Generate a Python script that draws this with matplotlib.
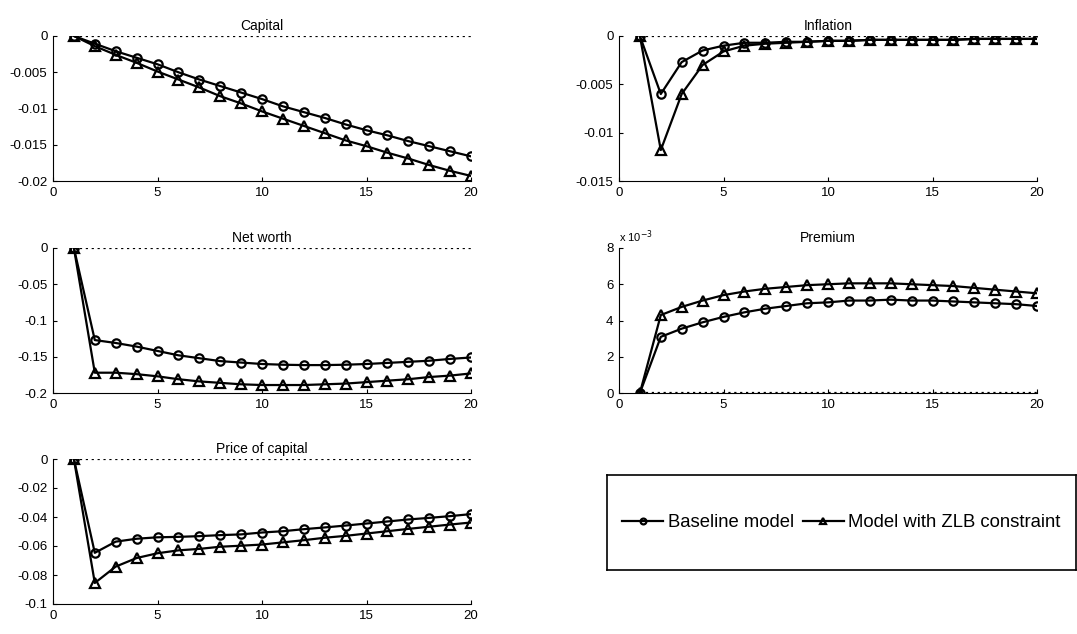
import numpy as np
import matplotlib.pyplot as plt
from matplotlib.ticker import FuncFormatter

plt.rcParams['font.family'] = ['Liberation Sans', 'DejaVu Sans']

periods = np.arange(1, 21)

# impulse responses: baseline vs ZLB-constrained model
capital_base = [0, -0.00106, -0.0021, -0.0030, -0.0039, -0.0050, -0.0060, -0.0069, -0.0078, -0.0087,
                -0.0097, -0.0105, -0.0113, -0.0122, -0.0130, -0.0137, -0.0145, -0.0152, -0.0159, -0.0166]
capital_zlb = [0, -0.0014, -0.0026, -0.0037, -0.0049, -0.0060, -0.0071, -0.0083, -0.0093, -0.0104,
               -0.0114, -0.0124, -0.0134, -0.0144, -0.0152, -0.0161, -0.0169, -0.0178, -0.0186, -0.0193]

inflation_base = [0, -0.0060, -0.0027, -0.0015, -0.0010, -0.0007, -0.0007, -0.0006, -0.0006, -0.0005,
                  -0.0005, -0.0004, -0.0004, -0.0004, -0.0004, -0.0004, -0.0003, -0.0003, -0.0003, -0.0003]
inflation_zlb = [0, -0.0118, -0.0060, -0.0030, -0.0016, -0.0010, -0.0008, -0.0007, -0.0006, -0.0005,
                 -0.0005, -0.0004, -0.0004, -0.0004, -0.0004, -0.0004, -0.0003, -0.0003, -0.0003, -0.0003]

networth_base = [0, -0.127, -0.131, -0.136, -0.142, -0.148, -0.152, -0.156, -0.158, -0.160,
                 -0.161, -0.1615, -0.1615, -0.161, -0.160, -0.1585, -0.157, -0.1555, -0.153, -0.151]
networth_zlb = [0, -0.172, -0.172, -0.174, -0.177, -0.181, -0.184, -0.186, -0.188, -0.189,
                -0.189, -0.189, -0.188, -0.187, -0.185, -0.183, -0.181, -0.178, -0.176, -0.173]

premium_base = [0, 0.00310, 0.00355, 0.00390, 0.00420, 0.00445, 0.00465, 0.00480, 0.00495, 0.00500,
                0.00510, 0.00510, 0.00515, 0.00510, 0.00510, 0.00505, 0.00500, 0.00495, 0.00490, 0.00480]
premium_zlb = [0, 0.00430, 0.00475, 0.00510, 0.00540, 0.00560, 0.00575, 0.00585, 0.00595, 0.00600,
               0.00605, 0.00605, 0.00605, 0.00600, 0.00595, 0.00590, 0.00580, 0.00570, 0.00560, 0.00550]

price_base = [0, -0.0647, -0.0570, -0.0550, -0.0540, -0.0537, -0.0532, -0.0525, -0.0520, -0.0507,
              -0.0498, -0.0484, -0.0472, -0.0459, -0.0445, -0.0431, -0.0417, -0.0406, -0.0394, -0.0380]
price_zlb = [0, -0.0855, -0.0742, -0.0683, -0.0650, -0.0630, -0.0620, -0.0605, -0.0598, -0.0590,
             -0.0575, -0.0560, -0.0543, -0.0530, -0.0514, -0.0498, -0.0482, -0.0467, -0.0452, -0.0438]

W, H = 1077, 634
fig = plt.figure(figsize=(W / 100, H / 100), dpi=100)


def box(left, top, right, bottom):
    return [left / W, 1 - bottom / H, (right - left) / W, (bottom - top) / H]


panels = [
    ('Capital', capital_base, capital_zlb, (-0.02, 0), [-0.02, -0.015, -0.01, -0.005, 0], box(53, 36, 471, 181)),
    ('Inflation', inflation_base, inflation_zlb, (-0.015, 0), [-0.015, -0.01, -0.005, 0], box(619, 36, 1037, 181)),
    ('Net worth', networth_base, networth_zlb, (-0.2, 0), [-0.2, -0.15, -0.1, -0.05, 0], box(53, 248, 471, 393)),
    ('Premium', premium_base, premium_zlb, (0, 0.008), [0, 0.002, 0.004, 0.006, 0.008], box(619, 248, 1037, 393)),
    ('Price of capital', price_base, price_zlb, (-0.1, 0), [-0.1, -0.08, -0.06, -0.04, -0.02, 0], box(53, 459, 471, 604)),
]

lines = []
for title, base, zlb, ylim, yticks, pos in panels:
    ax = fig.add_axes(pos)
    ax.plot(periods, np.zeros(len(periods)), ':', color='black', lw=1.6)
    l1, = ax.plot(periods, base, '-o', color='black', lw=1.6, ms=6,
                  mfc='none', mec='black', mew=1.6)
    l2, = ax.plot(periods, zlb, '-^', color='black', lw=1.6, ms=6.5,
                  mfc='none', mec='black', mew=1.6)
    lines = [l1, l2]
    ax.set_xlim(0, 20)
    ax.set_ylim(*ylim)
    ax.set_xticks([0, 5, 10, 15, 20])
    ax.set_yticks(yticks)
    if title == 'Premium':
        ax.yaxis.set_major_formatter(FuncFormatter(lambda v, _: f'{v * 1e3:g}'))
        ax.text(0, 1.02, r'x 10$^{-3}$', transform=ax.transAxes, fontsize=8, ha='left', va='bottom')
    else:
        ax.yaxis.set_major_formatter(FuncFormatter(lambda v, _: f'{v:g}'))
    ax.set_title(title, fontsize=10, pad=4)
    ax.spines['top'].set_visible(False)
    ax.spines['right'].set_visible(False)
    ax.spines['left'].set_linewidth(0.8)
    ax.spines['bottom'].set_linewidth(0.8)
    ax.tick_params(direction='in', length=3, width=0.8, labelsize=9.5, pad=4)
    ax.patch.set_alpha(0)

# legend in its own framed box
lax = fig.add_axes(box(607, 475, 1076, 570))
lax.set_xticks([])
lax.set_yticks([])
for s in lax.spines.values():
    s.set_linewidth(1.2)
lax.legend(lines, ['Baseline model', 'Model with ZLB constraint'], loc='center', ncol=2,
           frameon=False, fontsize=13.3, handlelength=2.2, handletextpad=0.25, columnspacing=0.5,
           markerscale=0.7)

fig.savefig('out.png', dpi=100)
